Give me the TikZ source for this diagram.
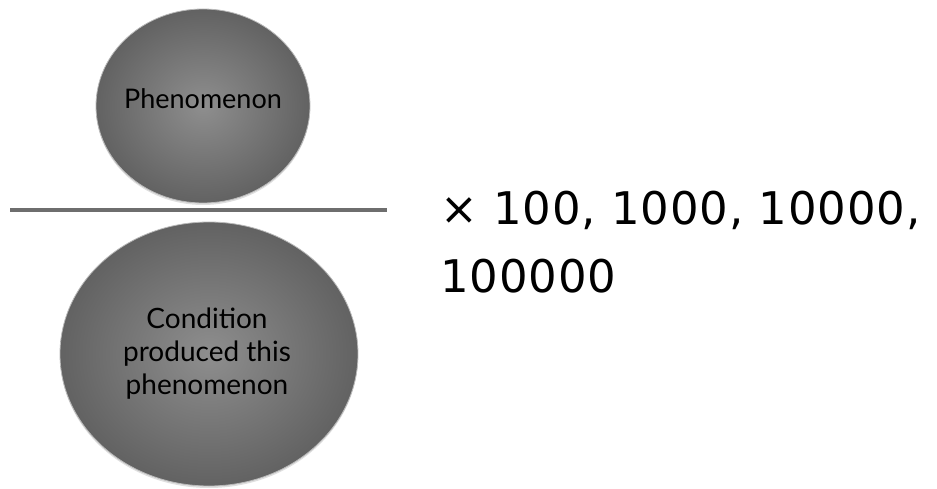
\documentclass[tikz,border=0pt]{standalone}
\usepackage{fontspec}
\setmainfont{Lato}
\newfontfamily\numfont[LetterSpace=2]{DejaVu Sans}
\usetikzlibrary{shapes.geometric,shadows}

\definecolor{blobin}{HTML}{8E8E8E}
\definecolor{blobout}{HTML}{626262}
\definecolor{rulegray}{HTML}{6E6E6E}

\tikzset{
  blob/.style={ellipse, inner sep=0pt, draw=gray!55, line width=0.8pt,
    shading=radial, inner color=blobin, outer color=blobout,
    drop shadow={opacity=0.25, shadow xshift=0pt, shadow yshift=-2pt}},
  blobtext/.style={align=center, inner sep=0pt,
    font=\fontsize{27}{33}\selectfont},
  factor/.style={anchor=base west, inner sep=0pt,
    font=\numfont\fontsize{45}{50}\selectfont}
}

\begin{document}
\begin{tikzpicture}[x=1pt,y=-1pt]
  \useasboundingbox (0,0) rectangle (937,489);
  % the fraction: phenomenon over condition
  \node[blob, minimum width=214pt, minimum height=194pt] (phen) at (203,106) {};
  \node[blob, minimum width=298pt, minimum height=264pt] (cond) at (209,354) {};
  \node[blobtext] (phentxt) at (203,99) {Phenomenon};
  \node[blobtext, font=\fontsize{28}{33}\selectfont] (condtxt) at (207,354)
    {Condition\\produced this\\phenomenon};
  \coordinate (barl) at (10,210);
  \coordinate (barr) at (387,210);
  \draw[rulegray, line width=4.5pt] (barl) -- (barr);
  % multiplier
  \node[factor] (mult) at (440,225) {× 100, 1000, 10000,};
  \node[factor] (multb) at (440,292) {100000};
\end{tikzpicture}
\end{document}
